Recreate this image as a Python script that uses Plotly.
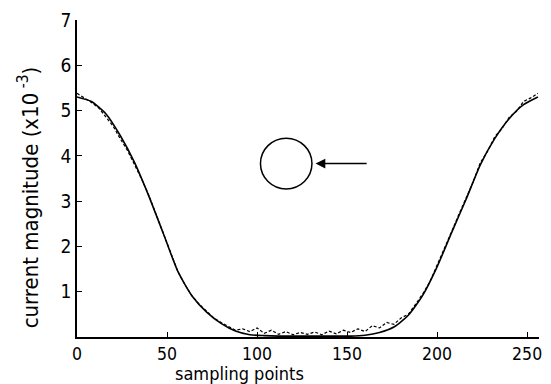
import plotly.graph_objects as go

# solid (model) curve
solid_x = [0, 8, 16, 24, 32, 40, 48, 56, 64, 72, 80, 88, 96, 104, 112, 120, 128, 136, 144, 152,
           160, 168, 176, 184, 192, 200, 208, 216, 224, 232, 240, 248, 256]
solid_y = [5.30, 5.20, 4.93, 4.45, 3.85, 3.10, 2.28, 1.45, 0.90, 0.55, 0.30, 0.13, 0.05, 0.03, 0.02, 0.02, 0.02, 0.02, 0.02, 0.02,
           0.04, 0.10, 0.22, 0.48, 0.92, 1.55, 2.30, 3.03, 3.80, 4.38, 4.82, 5.13, 5.30]

# dashed (measured) curve
meas_x = list(range(0, 257, 4))
meas_y = [5.38, 5.28, 5.18, 5.06, 4.86, 4.66, 4.38, 4.12, 3.80, 3.48, 3.12, 2.70, 2.30, 1.88, 1.45, 1.15,
          0.90, 0.72, 0.56, 0.42, 0.32, 0.24, 0.15, 0.18, 0.12, 0.20, 0.08, 0.15, 0.06, 0.12, 0.05, 0.10,
          0.06, 0.11, 0.05, 0.13, 0.07, 0.15, 0.10, 0.18, 0.12, 0.25, 0.20, 0.32, 0.28, 0.42, 0.50, 0.72,
          0.95, 1.22, 1.58, 1.92, 2.32, 2.70, 3.08, 3.42, 3.85, 4.10, 4.42, 4.60, 4.85, 4.98, 5.20, 5.28, 5.38]

x_ticks = [0, 50, 100, 150, 200, 250]
y_ticks = [1, 2, 3, 4, 5, 6, 7]

x_title = "sampling points"
y_title = "current magnitude (x10<sup> -3</sup>)"

FONT = "DejaVu Sans Condensed, DejaVu Sans"

fig = go.Figure()
fig.add_trace(go.Scatter(x=solid_x, y=solid_y, mode="lines",
                         line=dict(color="black", width=1.6, shape="spline", smoothing=0.6),
                         showlegend=False))
fig.add_trace(go.Scatter(x=meas_x, y=meas_y, mode="lines",
                         line=dict(color="black", width=1.2, dash="3px,2px"),
                         showlegend=False))

# circle symbol with arrow
fig.add_shape(type="circle", xref="x", yref="y", x0=101.9, x1=130.5, y0=3.27, y1=4.39,
              line=dict(color="black", width=1.5))
fig.add_annotation(x=132.5, y=3.83, ax=161.7, ay=3.83, xref="x", yref="y", axref="x", ayref="y",
                   showarrow=True, arrowhead=2, arrowsize=1.3, arrowwidth=1.5, arrowcolor="black", text="")

# axis titles as annotations (offset as in the original)
fig.add_annotation(text=x_title, xref="paper", yref="paper", x=0.352, y=-0.114,
                   xanchor="center", yanchor="middle", showarrow=False, font=dict(size=18),
                   borderpad=0)
fig.add_annotation(text=y_title, xref="paper", yref="paper", x=-0.1065, y=0.44, textangle=-90,
                   xanchor="center", yanchor="middle", showarrow=False, font=dict(size=22))

fig.update_layout(
    width=551, height=384,
    margin=dict(l=77, r=9, t=15, b=47),
    paper_bgcolor="white", plot_bgcolor="white",
    font=dict(family=FONT, color="black", size=19),
    xaxis=dict(range=[0, 256.6], tickvals=x_ticks, ticks="inside", ticklen=5, tickwidth=1.3,
               tickcolor="black", showline=True, linecolor="black", linewidth=1.5,
               showgrid=False, zeroline=False, tickfont=dict(size=17.5)),
    yaxis=dict(range=[0, 7], tickvals=y_ticks, ticks="inside", ticklen=5, tickwidth=1.3,
               tickcolor="black", showline=True, linecolor="black", linewidth=1.5,
               showgrid=False, zeroline=False, tickfont=dict(size=19)),
)

fig.write_html("out.html")
